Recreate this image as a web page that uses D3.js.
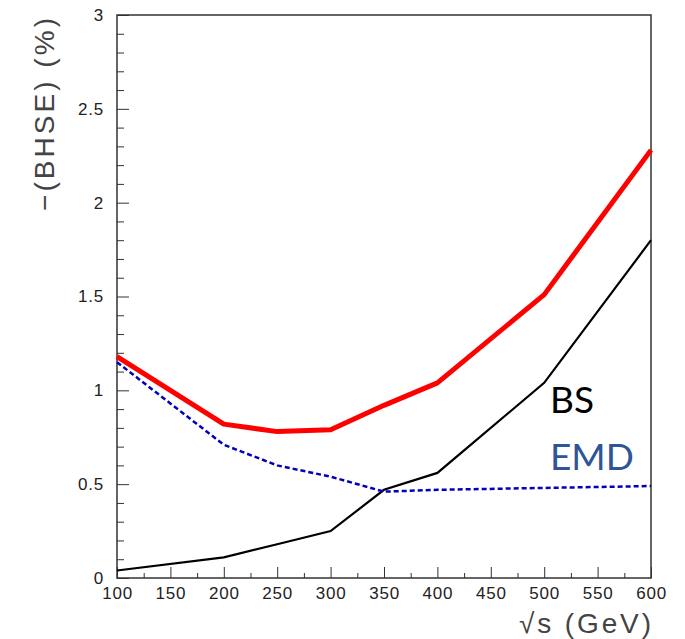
<!DOCTYPE html>
<html>
<head>
<meta charset="utf-8">
<script src="https://cdn.jsdelivr.net/npm/d3@7"></script>
<style>
  body { margin: 0; background: #fff; }
  .tick text { font-family: "Liberation Sans", Arial, sans-serif; fill: #222; letter-spacing: 0.8px; }
</style>
</head>
<body>
<script>
// energies (GeV) and -(BHSE) in %
let energy = [100, 200, 250, 300, 350, 400, 500, 600];
let total = [1.18, 0.82, 0.78, 0.79, 0.92, 1.04, 1.51, 2.28];
let emd = [1.15, 0.71, 0.60, 0.54, 0.46, 0.47, 0.48, 0.49];
let bs = [0.04, 0.11, 0.18, 0.25, 0.47, 0.56, 1.04, 1.80];
let xTicks = [100, 150, 200, 250, 300, 350, 400, 450, 500, 550, 600];
let yTicks = [0, 0.5, 1, 1.5, 2, 2.5, 3];

let width = 685, height = 639;
const margin = { top: 15, right: 34, bottom: 61, left: 117 };
let plotWidth = width - margin.left - margin.right;
let plotHeight = height - margin.top - margin.bottom;

let svg = d3.select('body').append('svg')
    .attr('width', width)
    .attr('height', height);

let plot = svg.append('g').attr('transform', `translate(${margin.left},${margin.top})`);

let x = d3.scaleLinear().domain([100, 600]).range([0, plotWidth]);
let y = d3.scaleLinear().domain([0, 3]).range([plotHeight, 0]);

// minor ticks
plot.append('g')
    .attr('transform', `translate(0,${plotHeight})`)
    .call(d3.axisBottom(x).tickValues(d3.range(125, 600, 50)).tickSize(-5).tickFormat(''))
    .call(g => g.select('.domain').remove())
    .call(g => g.selectAll('line').attr('stroke', '#333'));
plot.append('g')
    .call(d3.axisLeft(y).tickValues(d3.range(0, 3.01, 0.1).filter(v => Math.abs(v * 2 - Math.round(v * 2)) > 0.01)).tickSize(-7).tickFormat(''))
    .call(g => g.select('.domain').remove())
    .call(g => g.selectAll('line').attr('stroke', '#333'));

// major ticks with labels
plot.append('g')
    .attr('transform', `translate(0,${plotHeight})`)
    .call(d3.axisBottom(x).tickValues(xTicks).tickSize(-11).tickPadding(6).tickFormat(d3.format('d')))
    .call(g => g.select('.domain').remove())
    .call(g => g.selectAll('line').attr('stroke', '#333'))
    .call(g => g.selectAll('text').attr('font-size', 17).attr('dy', '0.9em'));
plot.append('g')
    .call(d3.axisLeft(y).tickValues(yTicks).tickSize(-12).tickPadding(13).tickFormat(d => d))
    .call(g => g.select('.domain').remove())
    .call(g => g.selectAll('line').attr('stroke', '#333'))
    .call(g => g.selectAll('text').attr('font-size', 17));

// frame
plot.append('rect')
    .attr('width', plotWidth).attr('height', plotHeight)
    .attr('fill', 'none').attr('stroke', '#333').attr('stroke-width', 1.5);

let line = vals => d3.line().x((d, i) => x(energy[i])).y(d => y(d))(vals);

plot.append('path').attr('d', line(bs))
    .attr('fill', 'none').attr('stroke', '#000').attr('stroke-width', 2.2);
plot.append('path').attr('d', line(emd))
    .attr('fill', 'none').attr('stroke', '#0000bb').attr('stroke-width', 2.5)
    .attr('stroke-dasharray', '5,3');
plot.append('path').attr('d', line(total))
    .attr('fill', 'none').attr('stroke', '#ff0000').attr('stroke-width', 5)
    .attr('stroke-linejoin', 'round');

// legend text
svg.append('text').attr('x', 550).attr('y', 413)
    .attr('font-family', 'Lato, "Open Sans", sans-serif').attr('font-size', 37)
    .attr('fill', '#000').text('BS');
svg.append('text').attr('x', 550).attr('y', 470)
    .attr('font-family', 'Lato, "Open Sans", sans-serif').attr('font-size', 37)
    .attr('fill', '#2f5597').text('EMD');

// axis titles
svg.append('text')
    .attr('transform', 'translate(54,18) rotate(-90)')
    .attr('text-anchor', 'end')
    .attr('font-family', '"Liberation Sans", Arial, sans-serif')
    .attr('font-size', 28).attr('fill', '#444')
    .attr('textLength', 193).attr('lengthAdjust', 'spacing')
    .text('\u2212(BHSE) (%)');
svg.append('text')
    .attr('x', 651).attr('y', 633)
    .attr('text-anchor', 'end')
    .attr('font-family', '"Liberation Sans", Arial, sans-serif')
    .attr('font-size', 28).attr('fill', '#444')
    .attr('textLength', 132).attr('lengthAdjust', 'spacing')
    .text('\u221As (GeV)');
</script>
</body>
</html>
